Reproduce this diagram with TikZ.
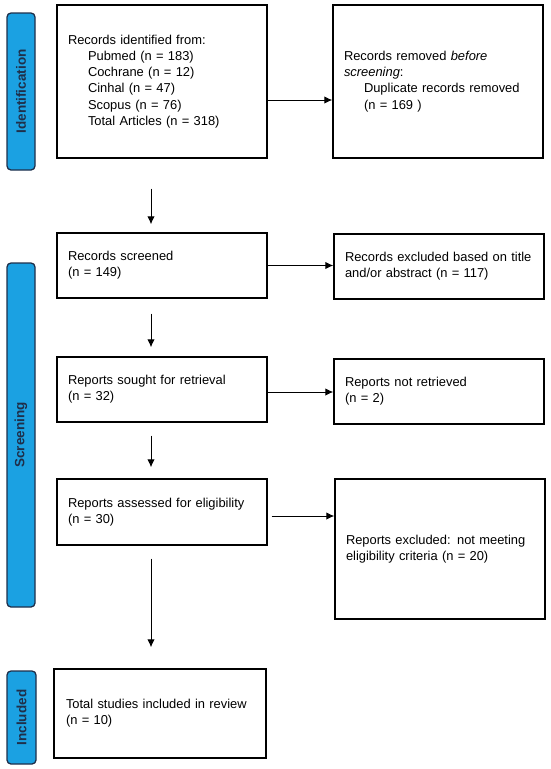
\documentclass[tikz,border=0pt]{standalone}
\usepackage{fontspec}
\setmainfont{Liberation Sans}
\usetikzlibrary{arrows.meta}
\definecolor{barblue}{HTML}{1BA1E2}
\definecolor{barnavy}{HTML}{1F2F4A}
\tikzset{
  box/.style={draw=black, line width=1.4pt, fill=white, minimum width=210pt, text width=188pt,
    inner xsep=11pt, align=left, font=\fontsize{12.9}{16.3}\selectfont},
  sidebar/.style={draw=barnavy, line width=1.3pt, fill=barblue, rounded corners=4pt},
  sidelabel/.style={rotate=90, text=barnavy, font=\fontsize{13.5}{15}\selectfont\bfseries},
  arr/.style={draw=black, line width=1pt, -{Latex[length=8pt,width=7.5pt]}}
}
\begin{document}
\begin{tikzpicture}[x=1pt,y=-1pt]
\useasboundingbox (0,0) rectangle (550,769);
% side bars
\node[sidebar, minimum width=28pt, minimum height=157pt] (barid) at (21,91.5) {};
\node[sidelabel] (labid) at (barid.center) {Identification};
\node[sidebar, minimum width=28pt, minimum height=344pt] (barsc) at (21,435) {};
\node[sidelabel] (labsc) at (barsc.center) {Screening};
\node[sidebar, minimum width=29pt, minimum height=93pt] (barin) at (21.5,717.5) {};
\node[sidelabel] (labin) at (barin.center) {Included};
% boxes
\node[box, minimum height=153pt] (b1) at (162,81.5) {Records identified from:\\
\hspace*{20pt}Pubmed (n = 183)\\
\hspace*{20pt}Cochrane (n = 12)\\
\hspace*{20pt}Cinhal (n = 47)\\
\hspace*{20pt}Scopus (n = 76)\\
\hspace*{20pt}Total Articles (n = 318)};
\node[box, minimum height=153pt] (b2) at (438,81.5) {Records removed \emph{before}\\
\emph{screening}:\\
\hspace*{20pt}Duplicate records removed\\
\hspace*{20pt}(n = 169 )\\[9pt]};
\node[box, minimum height=65pt] (b3) at (162,265.5) {Records screened\\(n = 149)};
\node[box, minimum height=65pt] (b4) at (439,266.5) {Records excluded based on title\\and/or abstract (n = 117)};
\node[box, minimum height=65pt] (b5) at (162,389.5) {Reports sought for retrieval\\(n = 32)};
\node[box, minimum height=65pt] (b6) at (439,391.5) {Reports not retrieved\\(n = 2)};
\node[box, minimum height=66pt] (b7) at (162,512) {Reports assessed for eligibility\\(n = 30)};
\node[box, minimum height=140pt] (b8) at (440,549) {Reports excluded: not meeting\\eligibility criteria (n = 20)\\[12pt]};
\node[box, minimum height=89pt, minimum width=212pt] (b9) at (160,713.5) {Total studies included in review\\(n = 10)};
% arrow anchor points
\coordinate (a1s) at ([yshift=-18.5pt]b1.east);
\coordinate (a3s) at ([yshift=-2.5pt]b5.east);
\coordinate (a4s) at ([yshift=-4pt]b7.east);
\coordinate (v1) at ([xshift=-11pt]b1.south);
\coordinate (v2) at ([xshift=-11pt]b3.south);
\coordinate (v3) at ([xshift=-11pt]b5.south);
\coordinate (v4) at ([xshift=-11pt]b7.south);
% horizontal arrows
\draw[arr] (a1s) -- (b2.west |- a1s);
\draw[arr] (b3.east) -- (b4.west |- b3.east);
\draw[arr] (a3s) -- (b6.west |- a3s);
\draw[arr, shorten <=4pt] (a4s) -- (b8.west |- a4s);
% vertical arrows
\draw[arr, shorten <=30pt, shorten >=8pt] (v1) -- (v1 |- b3.north);
\draw[arr, shorten <=15pt, shorten >=9pt] (v2) -- (v2 |- b5.north);
\draw[arr, shorten <=13pt, shorten >=11pt] (v3) -- (v3 |- b7.north);
\draw[arr, shorten <=13pt, shorten >=21pt] (v4) -- (v4 |- b9.north);
\end{tikzpicture}
\end{document}
